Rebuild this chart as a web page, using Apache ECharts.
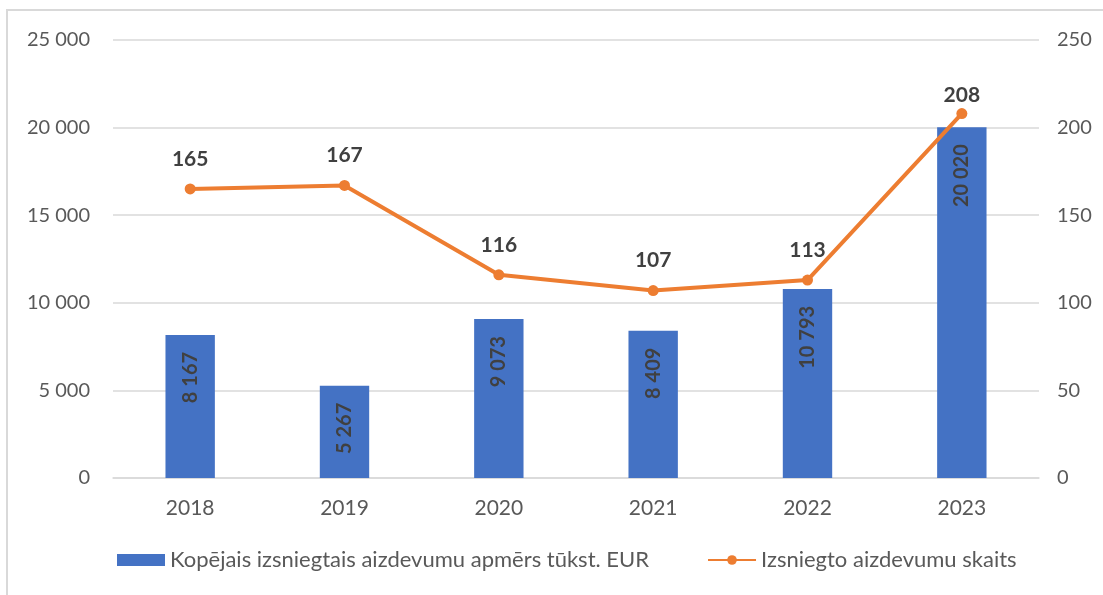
<!DOCTYPE html>
<html lang="lv">
<head>
  <meta charset="UTF-8">
  <title>Aizdevumi</title>
  <script src="https://cdn.jsdelivr.net/npm/echarts@6/dist/echarts.min.js"></script>
  <style>
    body { margin: 0; background: #fff; }
    #frame { position: absolute; left: 6px; top: 9px; width: 1110px; height: 600px;
             border-left: 2px solid #d9d9d9; border-top: 2px solid #d9d9d9; }
    #main { position: absolute; left: 0; top: 0; width: 1103px; height: 595px; }
  </style>
</head>
<body>
  <div id="frame"></div>
  <div id="main"></div>
  <script type="text/javascript">
    const years = ['2018', '2019', '2020', '2021', '2022', '2023'];
    const loanTotal = [8167, 5267, 9073, 8409, 10793, 20020];
    const loanCount = [165, 167, 116, 107, 113, 208];

    const fmt = v => String(v).replace(/\B(?=(\d{3})+(?!\d))/g, ' ');
    const font = 'Lato, "Open Sans", sans-serif';

    // the last label sits closer to its point in the original
    const countData = loanCount.map((v, i) =>
      i === loanCount.length - 1 ? { value: v, label: { distance: 2 } } : v);

    let myChart = echarts.init(document.getElementById('main'));
    myChart.setOption({
      animation: false,
      textStyle: { fontFamily: font },
      grid: { left: 113, right: 64, top: 40, bottom: 117 },
      legend: {
        bottom: 19,
        left: 112,
        itemGap: 58,
        itemWidth: 48,
        itemHeight: 12,
        textStyle: { fontSize: 22, color: '#595959', fontFamily: font },
        data: [
          { name: 'Kopējais izsniegtais aizdevumu apmērs tūkst. EUR', icon: 'rect' },
          { name: 'Izsniegto aizdevumu skaits' }
        ]
      },
      xAxis: {
        type: 'category',
        data: years,
        axisTick: { show: false },
        axisLine: { lineStyle: { color: '#d9d9d9', width: 1.5 } },
        axisLabel: { fontSize: 21, color: '#595959', margin: 20 }
      },
      yAxis: [
        {
          type: 'value', min: 0, max: 25000, interval: 5000,
          axisLabel: { fontSize: 20, color: '#595959', formatter: fmt, margin: 23 },
          splitLine: { lineStyle: { color: '#d9d9d9', width: 1.5 } }
        },
        {
          type: 'value', min: 0, max: 250, interval: 50,
          axisLabel: { fontSize: 20, color: '#595959', margin: 18 },
          splitLine: { show: false }
        }
      ],
      series: [
        {
          name: 'Kopējais izsniegtais aizdevumu apmērs tūkst. EUR',
          type: 'bar',
          data: loanTotal,
          barWidth: '32%',
          itemStyle: { color: '#4472C4' },
          label: {
            show: true,
            position: 'insideTop',
            rotate: 90,
            align: 'right',
            verticalAlign: 'middle',
            distance: 17,
            fontSize: 20,
            fontWeight: 'bold',
            color: '#404040',
            formatter: p => fmt(p.value)
          }
        },
        {
          name: 'Izsniegto aizdevumu skaits',
          type: 'line',
          yAxisIndex: 1,
          data: countData,
          symbol: 'circle',
          symbolSize: 11,
          itemStyle: { color: '#ED7D31' },
          lineStyle: { color: '#ED7D31', width: 4 },
          label: {
            show: true,
            position: 'top',
            distance: 14,
            fontSize: 21,
            fontWeight: 'bold',
            color: '#404040'
          }
        }
      ]
    });
  </script>
</body>
</html>
